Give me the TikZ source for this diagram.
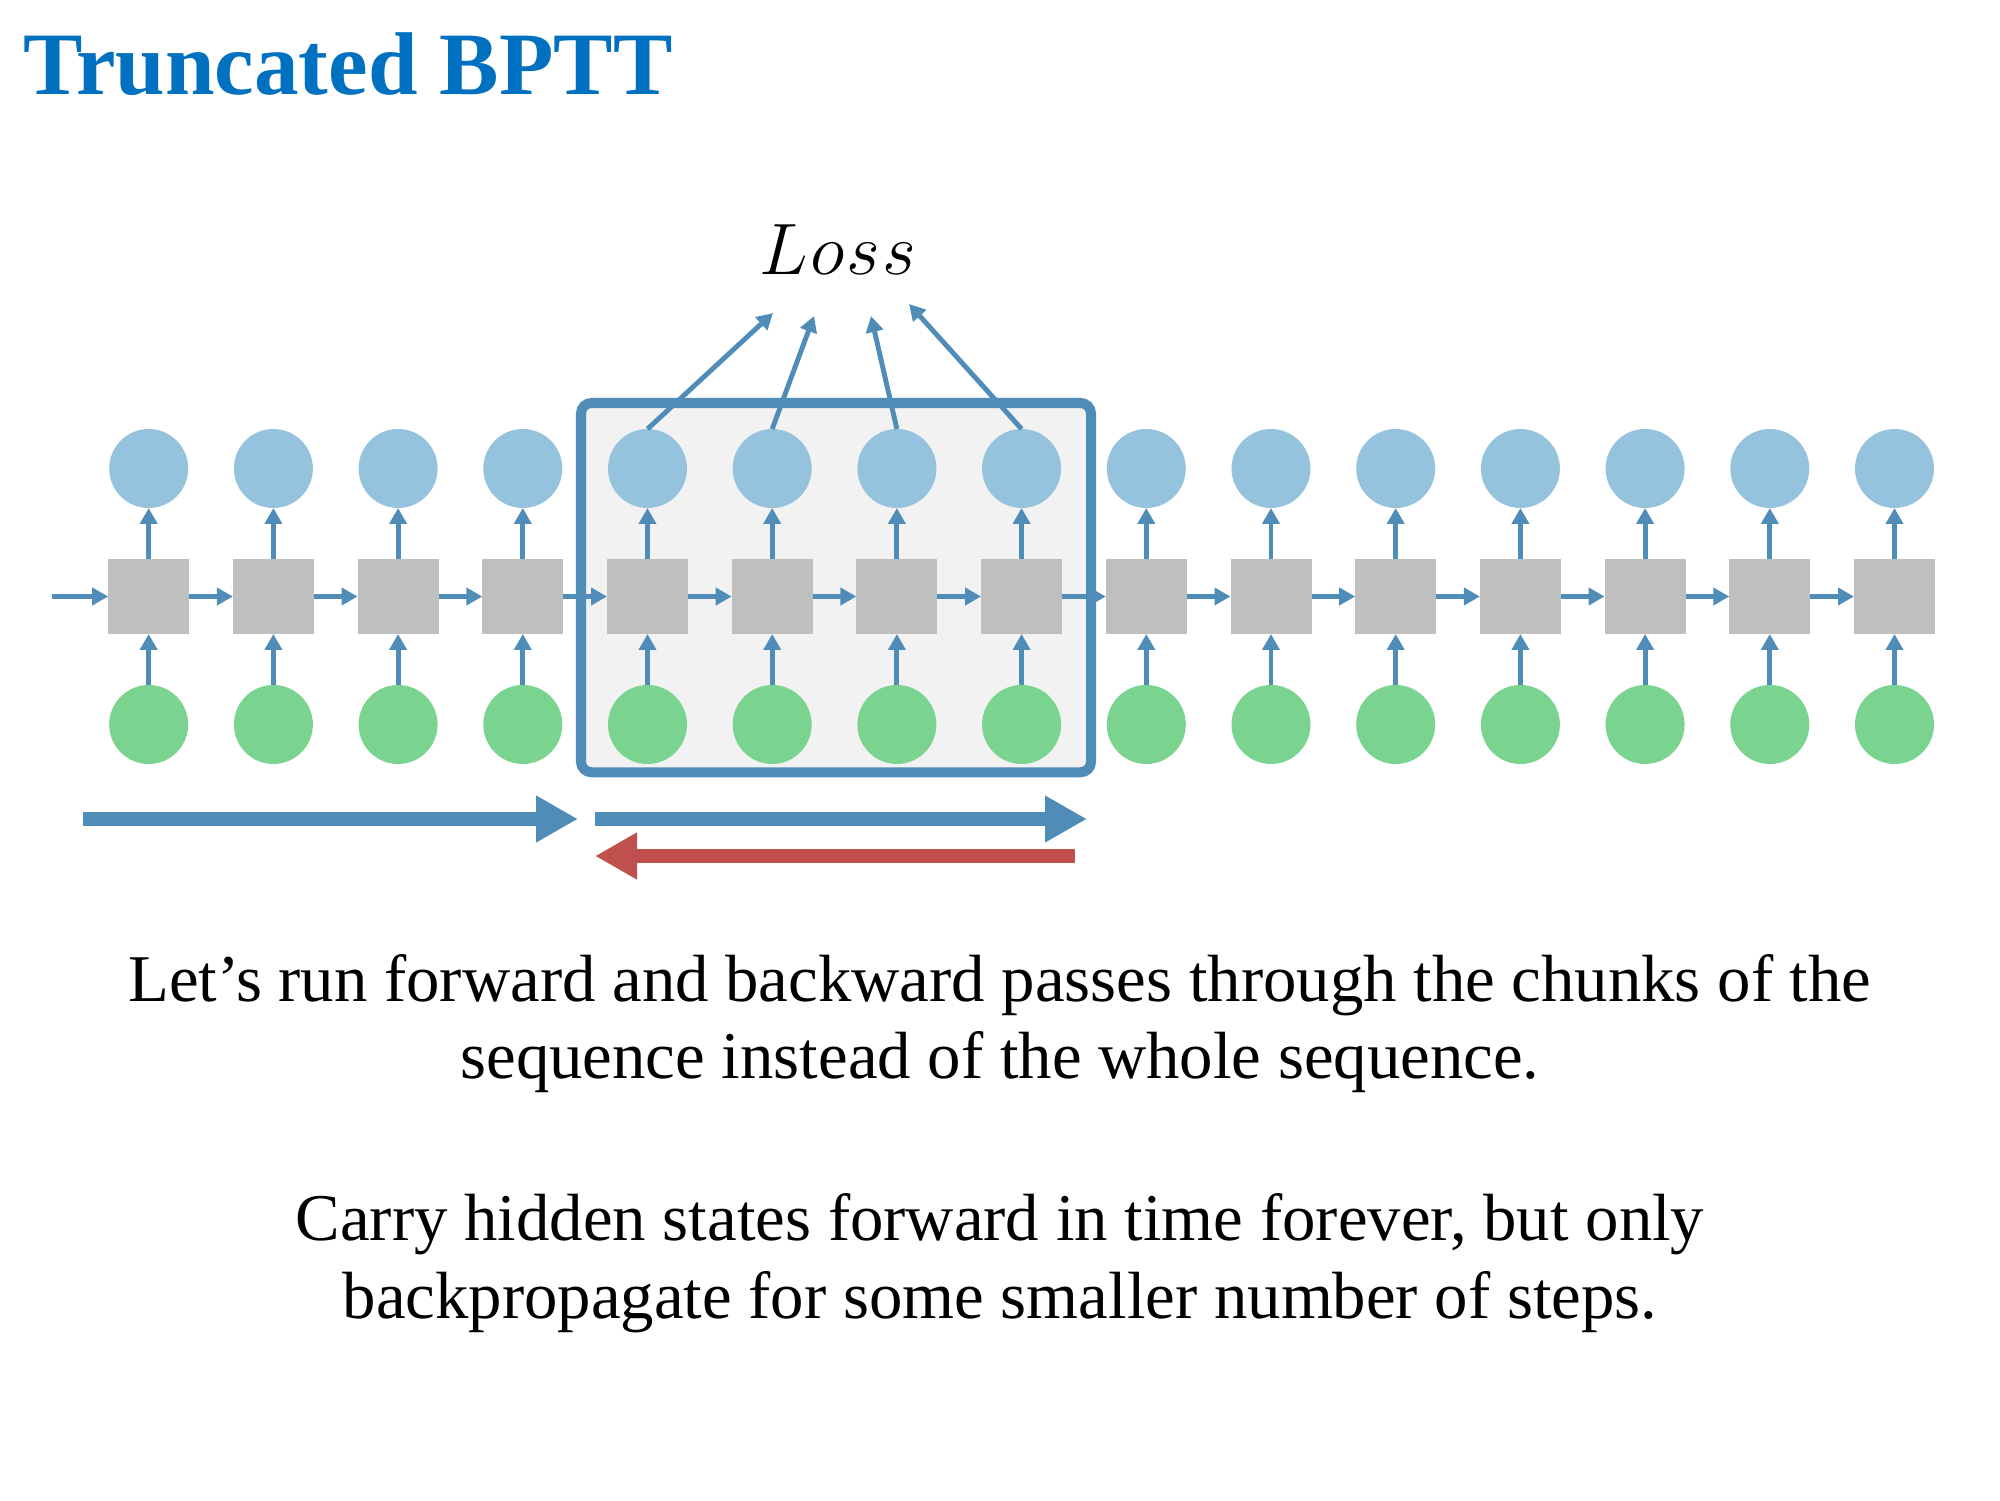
\documentclass[tikz,border=0pt]{standalone}
\usepackage{amsmath}
\usepackage{fontspec}
\setmainfont{Liberation Serif}
\usetikzlibrary{arrows,arrows.meta,positioning}

\definecolor{titleblue}{HTML}{0070C0}
\definecolor{arrowblue}{HTML}{4F8DB8}
\definecolor{outblue}{HTML}{95C3DD}
\definecolor{ingreen}{HTML}{7AD48F}
\definecolor{cellgray}{HTML}{BFBFBF}
\definecolor{chunkfill}{HTML}{F2F2F2}
\definecolor{backred}{HTML}{C0504D}

\begin{document}
\begin{tikzpicture}[>={Triangle[length=0.16cm,width=0.17cm]},node distance=0.51cm]
  \tikzstyle{cell}=[rectangle,fill=cellgray,inner sep=0pt,outer sep=0pt,minimum width=0.81cm,minimum height=0.75cm]
  \tikzstyle{outnode}=[circle,fill=outblue,inner sep=0pt,outer sep=0pt,minimum size=0.79cm]
  \tikzstyle{innode}=[circle,fill=ingreen,inner sep=0pt,outer sep=0pt,minimum size=0.79cm]
  \tikzstyle{link}=[->,draw=arrowblue,line width=1.4pt]
  \tikzstyle{bigpass}=[line width=4pt,-{Triangle[length=0.42cm,width=0.44cm]}]
  \tikzstyle{body}=[font=\fontsize{19}{22}\selectfont,anchor=base]

  \useasboundingbox (0,0) rectangle (20,15);

  \node[anchor=base west,text=titleblue,font=\fontsize{25.35}{30}\selectfont\bfseries,inner sep=0pt] (title) at (0.227,14.05) {Truncated BPTT};

  % the chunk we backpropagate through
  \draw[draw=arrowblue,fill=chunkfill,line width=2.85pt,rounded corners=3pt] (5.81,7.277) rectangle (10.91,10.97);

  \node[cell] (c1) at (1.487,9.035) {};
  \foreach \i [remember=\i as \j (initially 1)] in {2,...,15}
    \node[cell,right=0.437cm of c\j] (c\i) {};

  \foreach \i in {1,...,15} {
    \node[outnode,above=of c\i] (o\i) {};
    \node[innode,below=of c\i] (x\i) {};
    \draw[link] (c\i) -- (o\i);
    \draw[link] (x\i) -- (c\i);
  }

  \coordinate (h0) at (0.517,9.035);
  \draw[link] (h0) -- (c1);
  \foreach \i [remember=\i as \j (initially 1)] in {2,...,15}
    \draw[link] (c\j) -- (c\i);

  % loss
  \node[anchor=base,font=\fontsize{19.5}{22}\selectfont] (loss) at (8.38,12.25) {$L\mkern0.5mu o\mkern0.5mu s\mkern0.5mu s$};
  \coordinate (l1) at (7.73,11.87);
  \coordinate (l2) at (8.14,11.84);
  \coordinate (l3) at (8.71,11.84);
  \coordinate (l4) at (9.09,11.96);
  \draw[link] (o5.north) -- (l1);
  \draw[link] (o6.north) -- (l2);
  \draw[link] (o7.north) -- (l3);
  \draw[link] (o8.north) -- (l4);

  % forward and backward passes
  \coordinate (fa) at (0.83,6.81);
  \coordinate (fb) at (5.78,6.81);
  \coordinate (fc) at (5.95,6.81);
  \coordinate (fd) at (10.87,6.81);
  \coordinate (ba) at (10.75,6.44);
  \coordinate (bb) at (5.95,6.44);
  \draw[bigpass,arrowblue] (fa) -- (fb);
  \draw[bigpass,arrowblue] (fc) -- (fd);
  \draw[bigpass,backred] (ba) -- (bb);

  \node[body] (t1) at (10.0,4.983) {Let’s run forward and backward passes through the chunks of the};
  \node[body] (t2) at (10.0,4.218) {sequence instead of the whole sequence.};
  \node[body] (t3) at (10.0,2.597) {Carry hidden states forward in time forever, but only};
  \node[body] (t4) at (10.0,1.819) {backpropagate for some smaller number of steps.};
\end{tikzpicture}
\end{document}
